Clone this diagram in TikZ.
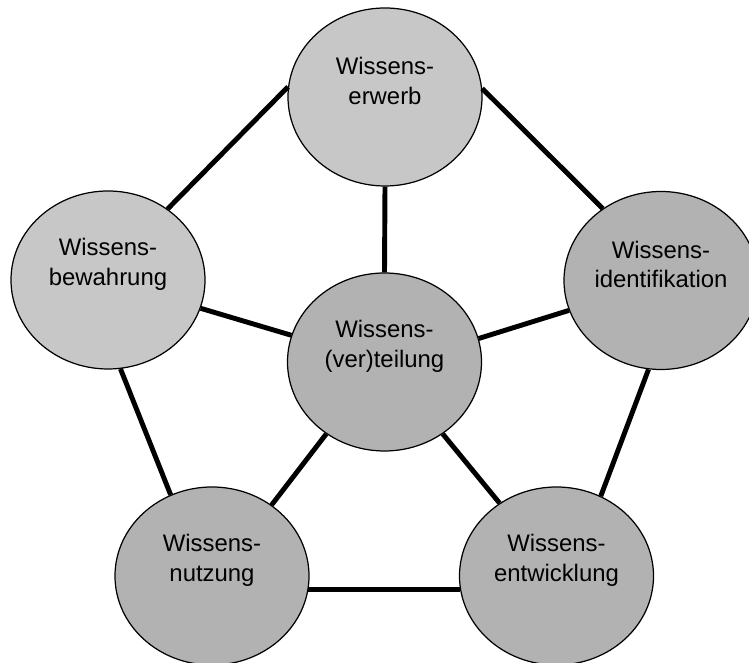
\documentclass[tikz,border=0pt]{standalone}
\usepackage{fontspec}
\setmainfont{Liberation Sans}
\usepackage{tikz}
\usetikzlibrary{shapes.geometric}
\tikzstyle{knot} = [draw, ellipse, line width=0.7pt, minimum width=3.88cm, minimum height=3.56cm, inner sep=0pt, fill=black!30]
\tikzstyle{pale} = [fill=black!22]
\tikzstyle{txt} = [align=center, yshift=0.32cm, font=\fontsize{13.6}{17}\selectfont]
\tikzstyle{link} = [line width=2.8pt]

\begin{document}
\begin{tikzpicture}
    \useasboundingbox (0,0) rectangle (14.98,13.26);
    % Nodes
    \node (erwerb) [knot, pale] at (7.70,11.32) {};
    \node (bewahrung) [knot, pale] at (2.16,7.66) {};
    \node (ident) [knot] at (13.22,7.65) {};
    \node (verteilung) [knot] at (7.69,6.02) {};
    \node (nutzung) [knot] at (4.24,1.74) {};
    \node (entwicklung) [knot] at (11.13,1.74) {};

    % Texts
    \node (t1) [txt] at (erwerb) {Wissens-\\erwerb};
    \node (t2) [txt] at (bewahrung) {Wissens-\\bewahrung};
    \node (t3) [txt] at (ident) {Wissens-\\identifikation};
    \node (t4) [txt] at (verteilung) {Wissens-\\(ver)teilung};
    \node (t5) [txt] at (nutzung) {Wissens-\\nutzung};
    \node (t6) [txt] at (entwicklung) {Wissens-\\entwicklung};

    % Outer ring
    \draw [link] (bewahrung.50) -- (erwerb.174);
    \draw [link] (erwerb.5) -- (ident.129);
    \draw [link] (bewahrung.278) -- (nutzung.117);
    \draw [link] (ident.262) -- (entwicklung.61);
    \draw [link] (nutzung.-8.4) -- (entwicklung.188.6);

    % Spokes
    \draw [link] (verteilung.90) -- (erwerb.270);
    \draw [link] (verteilung.164) -- (bewahrung.-17);
    \draw [link] (verteilung.14.5) -- (ident.198);
    \draw [link] (verteilung.231.5) -- (nutzung.50);
    \draw [link] (verteilung.-51.5) -- (entwicklung.128.7);
\end{tikzpicture}
\end{document}
